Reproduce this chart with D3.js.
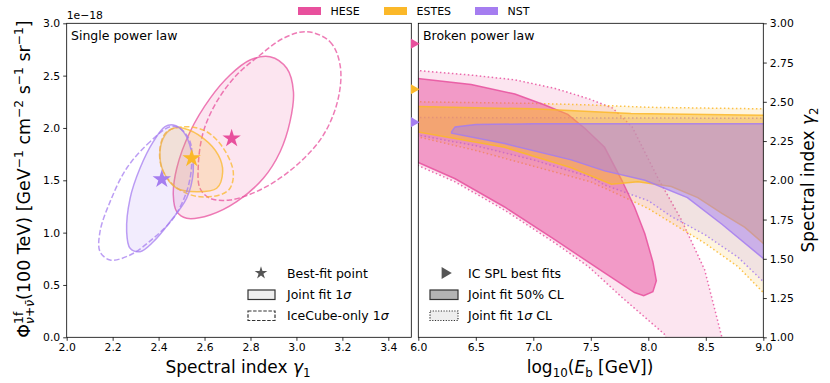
<!DOCTYPE html>
<html>
<head>
<meta charset="utf-8">
<script src="https://cdn.jsdelivr.net/npm/d3@7"></script>
<style>
  body { margin: 0; background: #fff; }
  svg { font-family: "DejaVu Sans", sans-serif; }
</style>
</head>
<body>
<div id="chart"></div>
<script>
// ---------- data ----------
const samples = ["HESE", "ESTES", "NST"];
const sampleColors = ["#e8509d", "#fbb829", "#a57df0"];

// single power law: best fits (gamma1, flux at 100 TeV in units of 1e-18)
const bestFitGamma = [2.718, 2.544, 2.414];
const bestFitFlux = [1.90, 1.71, 1.51];

// single power law 1 sigma contours [gamma1, flux]
const heseJoint = [[2.885,2.681],[2.958,2.570],[2.987,2.346],[2.972,2.060],[2.929,1.773],[2.856,1.519],[2.740,1.296],[2.624,1.169],[2.522,1.137],[2.479,1.200],[2.464,1.360],[2.479,1.615],[2.537,1.964],[2.624,2.283],[2.711,2.506],[2.798,2.649]];
const heseIceCube = [[3.045,2.920],[3.146,2.824],[3.190,2.601],[3.182,2.283],[3.117,1.931],[3.001,1.645],[2.856,1.424],[2.711,1.312],[2.624,1.328],[2.580,1.424],[2.573,1.646],[2.595,1.964],[2.653,2.251],[2.740,2.506],[2.842,2.697],[2.943,2.857]];
const estesJoint = [[2.508,1.997],[2.595,1.901],[2.660,1.741],[2.679,1.582],[2.653,1.424],[2.566,1.391],[2.479,1.424],[2.421,1.582],[2.406,1.773],[2.428,1.933],[2.464,1.997]];
const estesIceCube = [[2.522,2.012],[2.610,1.964],[2.682,1.806],[2.725,1.582],[2.711,1.424],[2.667,1.360],[2.580,1.343],[2.522,1.376],[2.464,1.455],[2.414,1.615],[2.406,1.806],[2.435,1.964]];
const nstJoint = [[2.464,2.028],[2.508,1.964],[2.544,1.773],[2.551,1.582],[2.522,1.328],[2.450,1.104],[2.377,0.913],[2.319,0.818],[2.276,0.850],[2.261,1.009],[2.276,1.328],[2.319,1.615],[2.377,1.869],[2.428,2.012]];
const nstIceCube = [[2.450,2.012],[2.363,1.869],[2.261,1.615],[2.189,1.296],[2.145,1.009],[2.145,0.818],[2.189,0.739],[2.276,0.786],[2.377,0.946],[2.464,1.137],[2.522,1.391],[2.544,1.646],[2.537,1.869],[2.493,1.997]];

// broken power law: IceCube single power law best fits (gamma)
const icSplGamma = [2.87, 2.58, 2.37];

// broken power law regions [log10 Eb, gamma2]
const hese1sigma = [[5.98,2.70],[6.46,2.67],[6.84,2.64],[7.19,2.585],[7.48,2.52],[7.69,2.46],[7.86,2.34],[8.08,2.02],[8.29,1.745],[8.49,1.43],[8.64,1.0],[8.67,0.9],[8.2,0.9],[8.14,1.02],[7.77,1.255],[7.48,1.45],[7.19,1.60],[6.75,1.81],[6.32,1.99],[5.98,2.10]];
const hese50 = [[5.98,2.65],[6.46,2.61],[6.84,2.55],[7.10,2.48],[7.30,2.42],[7.45,2.33],[7.62,2.21],[7.77,2.00],[7.88,1.83],[7.97,1.66],[8.04,1.48],[8.07,1.36],[8.04,1.29],[7.96,1.265],[7.88,1.285],[7.62,1.41],[7.19,1.62],[6.75,1.83],[6.32,2.01],[5.98,2.12]];
const estes1sigma = [[5.98,2.50],[6.5,2.495],[7.0,2.49],[7.5,2.48],[8.0,2.465],[8.5,2.46],[9.02,2.455],[9.02,1.27],[8.78,1.45],[8.49,1.60],[8.2,1.73],[8.0,1.82],[7.68,1.93],[7.5,1.99],[7.0,2.09],[6.5,2.19],[5.98,2.28]];
const estes50 = [[5.98,2.47],[7.0,2.455],[7.85,2.425],[9.02,2.415],[9.02,1.585],[8.84,1.70],[8.64,1.79],[8.43,1.89],[8.2,1.96],[7.91,1.99],[7.68,1.975],[7.33,2.08],[6.75,2.21],[5.98,2.31]];
const nst1sigma = [[5.98,2.40],[9.02,2.395],[9.02,1.34],[8.78,1.51],[8.5,1.65],[8.2,1.77],[8.0,1.87],[7.62,1.97],[7.5,2.02],[7.0,2.13],[6.5,2.22],[5.98,2.29]];
const nst50 = [[6.29,2.31],[6.32,2.34],[6.5,2.355],[7.0,2.36],[9.02,2.36],[9.02,1.49],[8.64,1.72],[8.34,1.89],[7.97,2.00],[7.62,2.06],[7.33,2.13],[6.75,2.234],[6.29,2.30]];

// ticks
const splXTicks = [2.0, 2.2, 2.4, 2.6, 2.8, 3.0, 3.2, 3.4];
const splYTicks = [0.0, 0.5, 1.0, 1.5, 2.0, 2.5, 3.0];
const bplXTicks = [6.0, 6.5, 7.0, 7.5, 8.0, 8.5, 9.0];
const bplYTicks = [1.00, 1.25, 1.50, 1.75, 2.00, 2.25, 2.50, 2.75, 3.00];

// ---------- layout ----------
const W = 830, H = 383;
const plotTop = 23.3, plotBottom = 337.3;

const svg = d3.select("#chart").append("svg")
  .attr("width", W).attr("height", H);

const xS = d3.scaleLinear().domain([2.0, 3.5]).range([66.7, 411.3]);
const yS = d3.scaleLinear().domain([0, 3]).range([plotBottom, plotTop]);
const xB = d3.scaleLinear().domain([6, 9]).range([418.3, 763.3]);
const yB = d3.scaleLinear().domain([1, 3]).range([plotBottom, plotTop]);

const defs = svg.append("defs");
defs.append("clipPath").attr("id", "clipS").append("rect")
  .attr("x", xS.range()[0]).attr("y", plotTop)
  .attr("width", xS.range()[1] - xS.range()[0]).attr("height", plotBottom - plotTop);
defs.append("clipPath").attr("id", "clipB").append("rect")
  .attr("x", xB.range()[0]).attr("y", plotTop)
  .attr("width", xB.range()[1] - xB.range()[0]).attr("height", plotBottom - plotTop);

// rich text helper: parts with sup / sub / stack (stack = put under previous sup)
function richText(sel, parts, fs) {
  let cur = 0, prev = null;
  parts.forEach(p => {
    const shift = p.sup ? -0.42 * fs : (p.sub ? 0.22 * fs : 0);
    const size = (p.sup || p.sub) ? fs * 0.7 : fs;
    const ts = sel.append("tspan")
      .attr("dy", shift - cur)
      .style("font-size", size + "px")
      .text(p.t);
    if (p.italic) ts.style("font-style", "italic");
    if (p.stack && prev) ts.attr("dx", -prev.node().getComputedTextLength());
    cur = shift;
    prev = ts;
  });
}

// ---------- single power law panel ----------
const gS = svg.append("g");
const plotS = gS.append("g").attr("clip-path", "url(#clipS)");
const closedCurve = (xs, ys) => d3.line().x(d => xs(d[0])).y(d => ys(d[1])).curve(d3.curveCatmullRomClosed.alpha(0.5));
const lineS = closedCurve(xS, yS);

const splContours = [
  [heseJoint, heseIceCube],
  [estesJoint, estesIceCube],
  [nstJoint, nstIceCube]
];
const splFillOpacity = [0.15, 0.2, 0.15];

splContours.forEach((c, i) => {
  plotS.append("path").attr("d", lineS(c[0]))
    .attr("fill", sampleColors[i]).attr("fill-opacity", splFillOpacity[i])
    .attr("stroke", sampleColors[i]).attr("stroke-opacity", 0.75).attr("stroke-width", 1.5);
  plotS.append("path").attr("d", lineS(c[1]))
    .attr("fill", "none")
    .attr("stroke", sampleColors[i]).attr("stroke-opacity", 0.75).attr("stroke-width", 1.5)
    .attr("stroke-dasharray", "5.5,2.4");
});

const star = d3.symbol().type(d3.symbolStar);
bestFitGamma.forEach((g, i) => {
  plotS.append("path").attr("d", star.size(105)())
    .attr("transform", `translate(${xS(g)},${yS(bestFitFlux[i])})`)
    .attr("fill", sampleColors[i]);
});

// axes
const axSX = gS.append("g").attr("transform", `translate(0,${plotBottom})`)
  .call(d3.axisBottom(xS).tickValues(splXTicks).tickFormat(d3.format(".1f")).tickSizeOuter(0).tickSize(3.5).tickPadding(3));
const axSY = gS.append("g").attr("transform", `translate(${xS.range()[0]},0)`)
  .call(d3.axisLeft(yS).tickValues(splYTicks).tickFormat(d3.format(".1f")).tickSizeOuter(0).tickSize(3.5).tickPadding(3));

gS.append("rect")
  .attr("x", xS.range()[0]).attr("y", plotTop)
  .attr("width", xS.range()[1] - xS.range()[0]).attr("height", plotBottom - plotTop)
  .attr("fill", "none").attr("stroke", "#000").attr("stroke-width", 0.8);

gS.append("text").attr("x", 66.7).attr("y", 19).style("font-size", "10.8px").text("1e\u221218");
gS.append("text").attr("x", 71).attr("y", 40).style("font-size", "12.5px").text("Single power law");

// legend
const legS = gS.append("g");
legS.append("path").attr("d", star.size(50)()).attr("transform", "translate(261,273)").attr("fill", "#555");
legS.append("text").attr("x", 287).attr("y", 277.5).style("font-size", "12.5px").text("Best-fit point");
legS.append("rect").attr("x", 248).attr("y", 290).attr("width", 27).attr("height", 9.5)
  .attr("fill", "#eee").attr("stroke", "#333").attr("stroke-width", 1.2);
richText(legS.append("text").attr("x", 287).attr("y", 299), [{t: "Joint fit 1"}, {t: "σ", italic: true}], 12.5);
legS.append("rect").attr("x", 248).attr("y", 311).attr("width", 27).attr("height", 9.5)
  .attr("fill", "#fff").attr("stroke", "#333").attr("stroke-width", 1.2).attr("stroke-dasharray", "3.5,1.6");
richText(legS.append("text").attr("x", 287).attr("y", 320), [{t: "IceCube-only 1"}, {t: "σ", italic: true}], 12.5);

// ---------- broken power law panel ----------
const gB = svg.append("g");
const plotB = gB.append("g").attr("clip-path", "url(#clipB)");
const lineB = d3.line().x(d => xB(d[0])).y(d => yB(d[1])).curve(d3.curveLinearClosed);

const bplRegions = [
  [hese1sigma, hese50],
  [estes1sigma, estes50],
  [nst1sigma, nst50]
];
bplRegions.forEach((r, i) => {
  plotB.append("path").attr("d", lineB(r[0]))
    .attr("fill", sampleColors[i]).attr("fill-opacity", 0.15)
    .attr("stroke", sampleColors[i]).attr("stroke-opacity", 0.85).attr("stroke-width", 1.5)
    .attr("stroke-dasharray", "1.5,2.5");
});
bplRegions.forEach((r, i) => {
  plotB.append("path").attr("d", lineB(r[1]))
    .attr("fill", sampleColors[i]).attr("fill-opacity", 0.5)
    .attr("stroke", sampleColors[i]).attr("stroke-opacity", 0.85).attr("stroke-width", 1.5);
});

const axBX = gB.append("g").attr("transform", `translate(0,${plotBottom})`)
  .call(d3.axisBottom(xB).tickValues(bplXTicks).tickFormat(d3.format(".1f")).tickSizeOuter(0).tickSize(3.5).tickPadding(3));
const axBY = gB.append("g").attr("transform", `translate(${xB.range()[1]},0)`)
  .call(d3.axisRight(yB).tickValues(bplYTicks).tickFormat(d3.format(".2f")).tickSizeOuter(0).tickSize(3.5).tickPadding(3));

gB.append("rect")
  .attr("x", xB.range()[0]).attr("y", plotTop)
  .attr("width", xB.range()[1] - xB.range()[0]).attr("height", plotBottom - plotTop)
  .attr("fill", "none").attr("stroke", "#000").attr("stroke-width", 0.8);

// IC SPL best fit triangles on the left edge
const tri = d3.symbol().type(d3.symbolTriangle);
icSplGamma.forEach((g, i) => {
  gB.append("path").attr("d", tri.size(45)())
    .attr("transform", `translate(${xB(6) - 4.5},${yB(g)}) rotate(90)`)
    .attr("fill", sampleColors[i]);
});

gB.append("text").attr("x", 423).attr("y", 40).style("font-size", "12.5px").text("Broken power law");

const legB = gB.append("g");
legB.append("path").attr("d", tri.size(60)()).attr("transform", "translate(445,273) rotate(90)").attr("fill", "#555");
legB.append("text").attr("x", 468).attr("y", 277.5).style("font-size", "12.5px").text("IC SPL best fits");
legB.append("rect").attr("x", 430).attr("y", 290).attr("width", 28).attr("height", 9.5)
  .attr("fill", "#b3b3b3").attr("stroke", "#333").attr("stroke-width", 1.2);
legB.append("text").attr("x", 468).attr("y", 299).style("font-size", "12.5px").text("Joint fit 50% CL");
legB.append("rect").attr("x", 430).attr("y", 311).attr("width", 28).attr("height", 9.5)
  .attr("fill", "#eee").attr("stroke", "#333").attr("stroke-width", 1.2).attr("stroke-dasharray", "1.2,1.5");
richText(legB.append("text").attr("x", 468).attr("y", 320), [{t: "Joint fit 1"}, {t: "σ", italic: true}, {t: " CL"}], 12.5);

// ---------- axis styling ----------
[axSX, axSY, axBX, axBY].forEach(a => {
  a.select(".domain").remove();
  a.selectAll(".tick line").attr("stroke", "#000").attr("stroke-width", 0.8);
  a.selectAll(".tick text").style("font-size", "10.8px").style("font-family", "DejaVu Sans").attr("fill", "#000");
});

// ---------- axis labels ----------
richText(svg.append("text").attr("x", 238).attr("y", 373).attr("text-anchor", "middle"),
  [{t: "Spectral index "}, {t: "γ", italic: true}, {t: "1", sub: true}], 17);
richText(svg.append("text").attr("x", 590).attr("y", 373).attr("text-anchor", "middle"),
  [{t: "log"}, {t: "10", sub: true}, {t: "("}, {t: "E", italic: true}, {t: "b", sub: true}, {t: " [GeV])"}], 17);
richText(svg.append("text").attr("transform", "translate(814,180) rotate(-90)").attr("text-anchor", "middle"),
  [{t: "Spectral index "}, {t: "γ", italic: true}, {t: "2", sub: true}], 17);
richText(svg.append("text").attr("transform", "translate(30,179) rotate(-90)").attr("text-anchor", "middle"),
  [{t: "Φ"}, {t: "1f", sup: true}, {t: "ν+ν\u0304", sub: true, stack: true, italic: true}, {t: "(100 TeV) [GeV"}, {t: "\u22121", sup: true},
   {t: " cm"}, {t: "\u22122", sup: true}, {t: " s"}, {t: "\u22121", sup: true}, {t: " sr"}, {t: "\u22121", sup: true}, {t: "]"}], 17.5);

// ---------- top legend ----------
const legTop = svg.append("g");
const legX = [298, 384, 475];
samples.forEach((s, i) => {
  legTop.append("rect").attr("x", legX[i]).attr("y", 7).attr("width", 23).attr("height", 8)
    .attr("fill", sampleColors[i]);
  legTop.append("text").attr("x", legX[i] + 32.5).attr("y", 15).style("font-size", "11px").text(s);
});
</script>
</body>
</html>
